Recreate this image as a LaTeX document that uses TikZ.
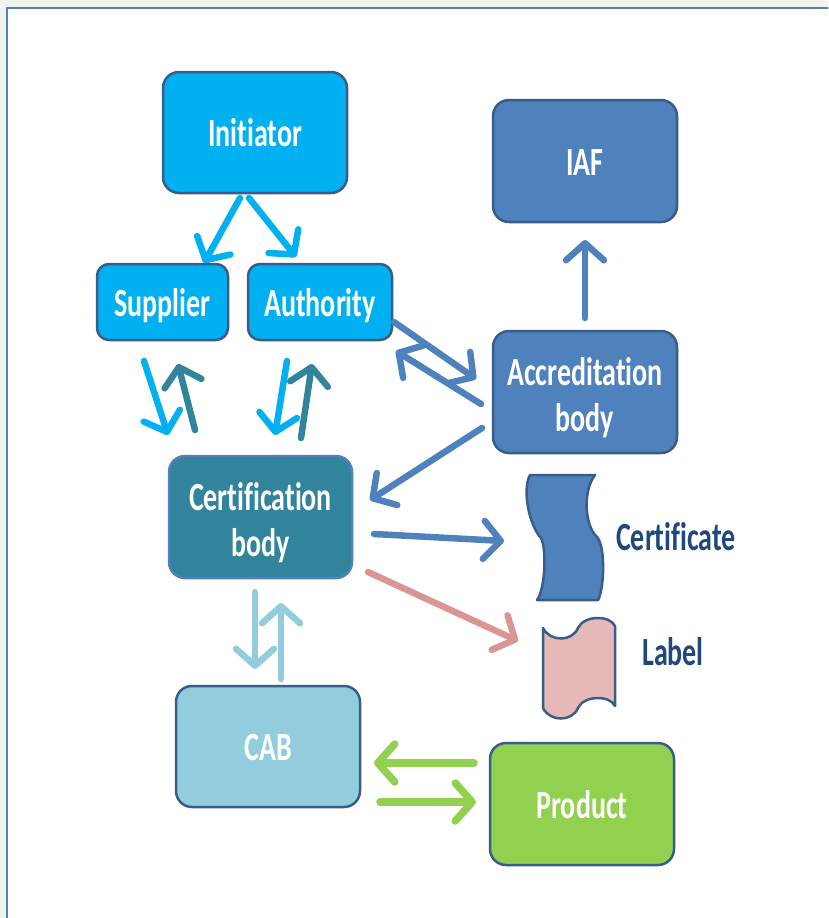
\documentclass[tikz,border=0pt]{standalone}
\usepackage{fontspec}
\newfontfamily\calfont{Carlito}[FakeStretch=0.7, Ligatures=CommonOff]
\usetikzlibrary{arrows.meta}
\definecolor{cyanbox}{HTML}{00B0F0}
\definecolor{bluebox}{HTML}{4F81BD}
\definecolor{tealbox}{HTML}{31849B}
\definecolor{lightbox}{HTML}{93CDDD}
\definecolor{greenbox}{HTML}{92D050}
\definecolor{pinkfill}{HTML}{E6B9B8}
\definecolor{pinkarrow}{HTML}{D99694}
\definecolor{bordc}{HTML}{385D8A}
\definecolor{textdark}{HTML}{1F497D}
\definecolor{outside}{HTML}{F3F3EE}
\newcommand{\twolines}[2]{\raisebox{-14pt}[40pt][40pt]{\begin{tabular}{@{}c@{}}#1\\#2\end{tabular}}}
\tikzset{
  box/.style={draw=bordc, line width=2.5pt, rounded corners=16pt, text=white,
    font=\calfont\bfseries\fontsize{40}{46}\selectfont, inner sep=0pt},
  one/.style={text height=28pt, text depth=0pt},
  side/.style={text=textdark, font=\calfont\bfseries\fontsize{40}{48}\selectfont, inner sep=0pt},
  arr/.style={line width=6.5pt, line cap=round, -{Straight Barb[round,length=17pt,width=38pt]}},
}
\begin{document}
\begin{tikzpicture}[x=1pt,y=-1pt]
\path[use as bounding box] (0,0) rectangle (828,918);
\clip (0,0) rectangle (828,918);
\fill[outside] (0,0) rectangle (828,918);
\draw[bluebox, line width=2pt, fill=white] (7,8) rectangle (860,950);

% boxes
\node[box, one, fill=cyanbox, minimum width=184pt, minimum height=121pt] (ini) at (255,132.5) {Initiator};
\node[box, one, fill=bluebox, minimum width=184pt, minimum height=122pt] (iaf) at (585,161) {IAF};
\node[box, one, fill=cyanbox, rounded corners=12pt, minimum width=131pt, minimum height=76pt] (sup) at (162.5,302) {Supplier};
\node[box, one, fill=cyanbox, rounded corners=12pt, minimum width=144pt, minimum height=76pt] (aut) at (320,302) {Authority};
\node[box, fill=bluebox, minimum width=184pt, minimum height=122pt] (acc) at (585,392) {\twolines{Accreditation}{body}};
\node[box, draw=bluebox, fill=tealbox, minimum width=183pt, minimum height=122pt] (cb) at (260.5,517) {\twolines{Certification}{body}};
\node[box, one, fill=lightbox, minimum width=184pt, minimum height=121pt] (cab) at (268,746.5) {CAB};
\node[box, one, fill=greenbox, minimum width=184pt, minimum height=122pt] (prod) at (582,804) {Product};

% certificate shape
\draw[bordc, line width=2.5pt, fill=bluebox, line join=round]
  (530,475) -- (595,475) .. controls (583,490) and (584,525) .. (597,537)
  .. controls (606,547) and (604,590) .. (598,600) -- (537,600)
  .. controls (545,590) and (547,550) .. (541,538)
  .. controls (529,525) and (522,490) .. (530,475) -- cycle;
\node[side] (certt) at (676,537) {Certificate};
% label shape
\draw[bordc, line width=2.5pt, fill=pinkfill, line join=round]
  (543,628) .. controls (550,642) and (572,642) .. (578,628)
  .. controls (584,615) and (610,615) .. (615,626) -- (615,706)
  .. controls (610,695) and (584,695) .. (578,708)
  .. controls (572,722) and (550,722) .. (543,708) -- cycle;
\node[side] (labt) at (673,652) {Label};

% arrow endpoints
\coordinate (a1s) at (240,198); \coordinate (a1e) at (204,263);
\coordinate (a2s) at (249,198); \coordinate (a2e) at (296,257);
\coordinate (s1s) at (144,361); \coordinate (s1e) at (168,435);
\coordinate (s2s) at (195,430); \coordinate (s2e) at (178,364);
\coordinate (t1s) at (287,361); \coordinate (t1e) at (275,435);
\coordinate (t2s) at (301,438); \coordinate (t2e) at (312,364);
\coordinate (u1s) at (394,322); \coordinate (u1e) at (476,379);
\coordinate (u2s) at (481,404); \coordinate (u2e) at (396,351);
\coordinate (v1s) at (482,428); \coordinate (v1e) at (370,500);
\coordinate (w1s) at (585,318); \coordinate (w1e) at (585,240);
\coordinate (c1s) at (374,534); \coordinate (c1e) at (504,541);
\coordinate (l1s) at (368,572); \coordinate (l1e) at (518,641);
\coordinate (d1s) at (255,592); \coordinate (d1e) at (255,669);
\coordinate (d2s) at (281,679); \coordinate (d2e) at (281,603);
\coordinate (g1s) at (474,763); \coordinate (g1e) at (374,763);
\coordinate (g2s) at (380,802); \coordinate (g2e) at (476,802);

% arrows
\draw[arr, cyanbox] (a1s) -- (a1e);
\draw[arr, cyanbox] (a2s) -- (a2e);
\draw[arr, cyanbox] (s1s) -- (s1e);
\draw[arr, tealbox] (s2s) -- (s2e);
\draw[arr, cyanbox] (t1s) -- (t1e);
\draw[arr, tealbox] (t2s) -- (t2e);
\draw[arr, bluebox] (u1s) -- (u1e);
\draw[arr, bluebox] (u2s) -- (u2e);
\draw[arr, bluebox] (v1s) -- (v1e);
\draw[arr, bluebox] (w1s) -- (w1e);
\draw[arr, bluebox] (c1s) -- (c1e);
\draw[arr, pinkarrow] (l1s) -- (l1e);
\draw[arr, lightbox] (d1s) -- (d1e);
\draw[arr, lightbox] (d2s) -- (d2e);
\draw[arr, greenbox, line width=7.5pt] (g1s) -- (g1e);
\draw[arr, greenbox, line width=7.5pt] (g2s) -- (g2e);
\end{tikzpicture}
\end{document}
